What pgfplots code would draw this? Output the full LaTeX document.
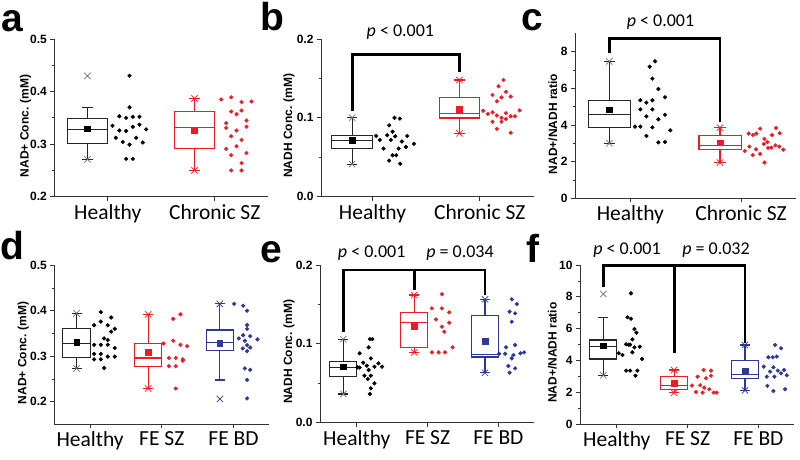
\documentclass[border=0pt]{standalone}
\usepackage{fontspec}
\setmainfont{Liberation Sans}
\newfontfamily\calib{Carlito}
\usepackage{pgfplots}
\pgfplotsset{compat=1.18}
\usepgfplotslibrary{statistics}
\definecolor{myred}{RGB}{237,28,36}
\definecolor{myblue}{RGB}{46,56,150}
\pgfplotsset{
 panel/.style={
  scale only axis, anchor=south west, clip=false,
  axis x line*=bottom, axis y line*=left,
  axis line style={black!80, line width=0.8pt},
  tick align=outside,
  every tick/.style={black!80, line width=0.8pt},
  major tick length=4pt, minor tick length=2.5pt,
  minor y tick num=1,
  yticklabel style={font=\bfseries\fontsize{12}{14}\selectfont},
  xticklabel style={font=\calib\fontsize{21.5}{24}\selectfont},
  ylabel style={font=\bfseries\fontsize{12}{14}\selectfont},
  boxplot/draw direction=y,
  boxplot/box extend=0.38,
 },
 lab/.style={ylabel style={at={(axis description cs:#1,0.45)}, anchor=center}},
}
\newcommand{\BOX}[7]{\addplot[#1, line width=1.1pt, solid, boxplot prepared={draw direction=y, draw position=#2, lower whisker=#3, lower quartile=#4, median=#5, upper quartile=#6, upper whisker=#7}] coordinates {};}
\newcommand{\MEAN}[3]{\addplot[#1, only marks, mark=square*, mark size=2.8pt] coordinates {(#2,#3)};}
\newcommand{\XM}[2]{\addplot[#1, only marks, mark=x, mark size=4.5pt, line width=0.7pt] coordinates {#2};}
\newcommand{\DOTS}[2]{\addplot[#1, only marks, mark=*, mark size=1.9pt, mark options={draw=none}] coordinates {#2};}
\newcommand{\BRK}[1]{\addplot[black, line width=2.8pt, sharp plot, mark=none] coordinates {#1};}
\newcommand{\PV}{\calib\fontsize{18}{20}\selectfont}
\begin{document}
\begin{tikzpicture}
\path[use as bounding box] (0,0) rectangle (800pt,460pt);
\node[anchor=base west, font=\bfseries\fontsize{39}{39}\selectfont, inner sep=0] at (1.5pt,428.5pt) {a};
\node[anchor=base west, font=\bfseries\fontsize{39}{39}\selectfont, inner sep=0] at (260.5pt,429pt) {b};
\node[anchor=base west, font=\bfseries\fontsize{39}{39}\selectfont, inner sep=0] at (521.5pt,429pt) {c};
\node[anchor=base west, font=\bfseries\fontsize{39}{39}\selectfont, inner sep=0] at (0.5pt,200pt) {d};
\node[anchor=base west, font=\bfseries\fontsize{39}{39}\selectfont, inner sep=0] at (260.5pt,197pt) {e};
\node[anchor=base west, font=\bfseries\fontsize{39}{39}\selectfont, inner sep=0] at (526pt,197pt) {f};

% ---------------- panel a
\begin{axis}[panel, lab=-0.135, at={(54.3pt,263.3pt)}, width=214pt, height=157.7pt,
  xmin=0.5, xmax=2.5, ymin=0.2, ymax=0.5,
  xtick={1,2}, xticklabels={Healthy, Chronic SZ},
  ytick={0.2,0.3,0.4,0.5}, yticklabels={0.2,0.3,0.4,0.5},
  ylabel={NAD+ Conc. (mM)}, boxplot/whisker extend=0.1]
\BOX{black!85}{0.81}{0.271}{0.3015}{0.327}{0.349}{0.37}
\MEAN{black}{0.81}{0.329}
\XM{black!55}{(0.81,0.43)(0.81,0.271)}
\DOTS{black}{(1.203,0.430)(1.203,0.370)(1.108,0.353)(1.171,0.350)(1.234,0.352)(1.296,0.352)(1.044,0.335)(1.108,0.326)(1.171,0.325)(1.234,0.333)(1.296,0.337)(1.358,0.328)(1.075,0.312)(1.140,0.304)(1.203,0.299)(1.265,0.312)(1.327,0.303)(1.171,0.272)(1.234,0.272)}
\BOX{myred}{1.81}{0.25}{0.291}{0.331}{0.362}{0.387}
\MEAN{myred}{1.81}{0.3255}
\XM{myred}{(1.81,0.387)(1.81,0.25)}
\DOTS{myred}{(2.06,0.385)(2.153,0.389)(2.25,0.380)(2.343,0.381)(2.153,0.362)(2.203,0.357)(2.25,0.364)(2.296,0.345)(2.106,0.340)(2.296,0.333)(2.106,0.331)(2.203,0.326)(2.153,0.315)(2.25,0.308)(2.106,0.291)(2.203,0.296)(2.153,0.279)(2.296,0.283)(2.25,0.264)(2.153,0.250)(2.25,0.250)}
\end{axis}

% ---------------- panel b
\begin{axis}[panel, lab=-0.15, at={(321pt,263.3pt)}, width=212.5pt, height=157.7pt,
  xmin=0.52, xmax=2.5, ymin=0, ymax=0.2,
  xtick={1,2}, xticklabels={Healthy, Chronic SZ},
  ytick={0,0.1,0.2}, yticklabels={0.0,0.1,0.2},
  ylabel={NADH Conc. (mM)}, boxplot/whisker extend=0.1]
\BRK{(0.81,0.109)(0.81,0.18)(1.81,0.18)(1.81,0.1585)}
\node[font=\PV] at (axis cs:1.26,0.209) {\textit{p} < 0.001};
\BOX{black!85}{0.81}{0.0414}{0.0609}{0.0715}{0.0778}{0.1002}
\MEAN{black}{0.81}{0.072}
\XM{black!55}{(0.81,0.1002)(0.81,0.0414)}
\DOTS{black}{(1.034,0.077)(1.068,0.072)(1.137,0.078)(1.103,0.061)(1.155,0.0905)(1.187,0.0824)(1.171,0.072)(1.211,0.0766)(1.205,0.100)(1.255,0.099)(1.274,0.070)(1.243,0.061)(1.324,0.077)(1.311,0.063)(1.386,0.067)(1.221,0.0525)(1.187,0.0525)(1.155,0.0457)(1.258,0.0419)}
\BOX{myred}{1.81}{0.0804}{0.0998}{0.1057}{0.1256}{0.148}
\MEAN{myred}{1.81}{0.111}
\XM{myred}{(1.81,0.148)(1.81,0.0804)}
\DOTS{myred}{(2.221,0.148)(2.174,0.140)(2.243,0.133)(2.118,0.129)(2.287,0.127)(2.202,0.126)(2.159,0.121)(2.031,0.109)(2.075,0.105)(2.118,0.107)(2.159,0.103)(2.202,0.100)(2.243,0.106)(2.287,0.102)(2.327,0.102)(2.371,0.1095)(2.202,0.095)(2.243,0.0985)(2.118,0.095)(2.159,0.086)(2.287,0.081)}
\end{axis}

% ---------------- panel c
\begin{axis}[panel, lab=-0.1, at={(575pt,261.7pt)}, width=221.4pt, height=165pt,
  xmin=0.5, xmax=2.5, ymin=0, ymax=9,
  xtick={1,2}, xticklabels={Healthy, Chronic SZ},
  ytick={0,2,4,6,8}, yticklabels={0,2,4,6,8},
  ylabel={NAD+/NADH ratio}, boxplot/whisker extend=0.1]
\BRK{(0.81,7.9)(0.81,8.72)(1.81,8.72)(1.81,4.18)}
\node[font=\PV] at (axis cs:1.272,9.63) {\textit{p} < 0.001};
\BOX{black!85}{0.81}{3.0}{3.87}{4.56}{5.35}{7.47}
\MEAN{black}{0.81}{4.84}
\XM{black!55}{(0.81,7.47)(0.81,3.0)}
\DOTS{black}{(1.223,7.47)(1.175,7.18)(1.199,6.53)(1.253,5.96)(1.313,5.51)(1.090,5.35)(1.145,5.22)(1.199,5.35)(1.090,4.85)(1.199,4.85)(1.145,4.47)(1.313,4.56)(1.253,4.31)(1.042,3.91)(1.090,3.91)(1.199,3.87)(1.361,3.71)(1.145,3.40)(1.253,3.05)(1.313,3.07)}
\BOX{myred}{1.81}{1.95}{2.67}{2.89}{3.45}{3.85}
\MEAN{myred}{1.81}{3.04}
\XM{myred}{(1.81,3.85)(1.81,1.95)}
\DOTS{myred}{(2.069,3.53)(2.108,3.45)(2.138,3.53)(2.172,3.80)(2.316,3.84)(2.349,3.55)(2.28,3.45)(2.211,3.24)(2.238,3.07)(2.205,2.96)(2.075,2.82)(2.244,2.75)(2.274,2.76)(2.31,2.89)(2.346,2.82)(2.382,2.65)(2.135,2.67)(2.033,2.58)(2.105,2.36)(2.172,2.42)(2.211,1.95)}
\end{axis}

% ---------------- panel d
\begin{axis}[panel, lab=-0.144, at={(54.3pt,35.6pt)}, width=215pt, height=159.2pt,
  xmin=0.5, xmax=3.5, ymin=0.15, ymax=0.5,
  xtick={1,2,3}, xticklabels={Healthy, FE SZ, FE BD},
  ytick={0.2,0.3,0.4,0.5}, yticklabels={0.2,0.3,0.4,0.5},
  ylabel={NAD+ Conc. (mM)}, boxplot/whisker extend=0.14]
\BOX{black!85}{0.81}{0.273}{0.298}{0.3275}{0.36}{0.394}
\MEAN{black}{0.81}{0.331}
\XM{black!55}{(0.81,0.394)(0.81,0.273)}
\DOTS{black}{(1.149,0.397)(1.293,0.385)(1.056,0.368)(1.149,0.376)(1.246,0.368)(1.344,0.360)(1.293,0.354)(1.195,0.339)(1.246,0.3355)(1.344,0.318)(1.056,0.325)(1.149,0.325)(1.246,0.325)(1.056,0.305)(1.149,0.305)(1.246,0.299)(1.056,0.293)(1.149,0.293)(1.344,0.299)(1.195,0.274)}
\BOX{myred}{1.81}{0.229}{0.2777}{0.296}{0.3275}{0.392}
\MEAN{myred}{1.81}{0.309}
\XM{myred}{(1.81,0.392)(1.81,0.229)}
\DOTS{myred}{(2.26,0.392)(2.16,0.382)(2.023,0.328)(2.16,0.334)(2.26,0.325)(2.353,0.322)(2.10,0.296)(2.195,0.296)(2.293,0.293)(2.10,0.278)(2.195,0.278)(2.293,0.290)(2.195,0.229)}
\BOX{myblue}{2.81}{0.2476}{0.312}{0.330}{0.3575}{0.415}
\MEAN{myblue}{2.81}{0.328}
\XM{myblue}{(2.81,0.415)(2.81,0.206)}
\DOTS{myblue}{(3.01,0.415)(3.135,0.411)(3.19,0.400)(3.19,0.3685)(3.19,0.360)(3.135,0.346)(3.233,0.344)(3.075,0.339)(3.335,0.337)(3.159,0.334)(3.19,0.324)(3.13,0.317)(3.233,0.319)(3.19,0.311)(3.159,0.273)(3.233,0.270)(3.19,0.248)(3.19,0.207)}
\end{axis}

% ---------------- panel e
\begin{axis}[panel, lab=-0.145, at={(320pt,37.3pt)}, width=213.8pt, height=157.7pt,
  xmin=0.48, xmax=3.5, ymin=0, ymax=0.2,
  xtick={1,2,3}, xticklabels={Healthy, FE SZ, FE BD},
  ytick={0,0.1,0.2}, yticklabels={0.0,0.1,0.2},
  ylabel={NADH Conc. (mM)}, boxplot/whisker extend=0.14]
\BRK{(0.81,0.1154)(0.81,0.1937)(2.81,0.1937)(2.81,0.162)}
\BRK{(1.81,0.1937)(1.81,0.168)}
\node[font=\PV] at (axis cs:1.21,0.2156) {\textit{p} < 0.001};
\node[font=\PV] at (axis cs:2.458,0.2156) {\textit{p} = 0.034};
\BOX{black!85}{0.81}{0.0364}{0.0583}{0.070}{0.0774}{0.106}
\MEAN{black}{0.81}{0.071}
\XM{black!55}{(0.81,0.106)(0.81,0.0364)}
\DOTS{black}{(1.185,0.106)(1.22,0.106)(1.167,0.0956)(1.04,0.088)(1.198,0.0816)(1.305,0.0753)(1.09,0.0761)(1.141,0.0723)(1.249,0.071)(1.357,0.071)(1.01,0.0702)(1.04,0.0698)(1.167,0.0668)(1.108,0.0596)(1.198,0.0596)(1.155,0.0554)(1.249,0.0499)(1.198,0.0436)(1.185,0.0364)}
\BOX{myred}{1.81}{0.0892}{0.0956}{0.127}{0.140}{0.162}
\MEAN{myred}{1.81}{0.1226}
\XM{myred}{(1.81,0.162)(1.81,0.0892)}
\DOTS{myred}{(2.202,0.163)(2.061,0.145)(2.202,0.145)(2.305,0.140)(2.118,0.131)(2.202,0.1218)(2.305,0.1268)(2.235,0.1154)(2.061,0.0892)(2.155,0.0892)(2.245,0.0892)(2.353,0.0956)}
\BOX{myblue}{2.81}{0.0634}{0.0833}{0.087}{0.136}{0.1565}
\MEAN{myblue}{2.81}{0.103}
\XM{myblue}{(2.81,0.1565)(2.81,0.0634)}
\DOTS{myblue}{(3.189,0.1565)(3.26,0.1505)(3.158,0.1408)(3.236,0.1387)(3.189,0.128)(3.108,0.0956)(3.236,0.0985)(3.01,0.0875)(3.095,0.0875)(3.212,0.0858)(3.311,0.088)(3.363,0.0892)(3.189,0.0816)(3.141,0.0719)(3.236,0.0689)(3.158,0.0634)}
\end{axis}

% ---------------- panel f
\begin{axis}[panel, lab=-0.129, at={(580pt,35.7pt)}, width=213.8pt, height=159.3pt,
  xmin=0.48, xmax=3.5, ymin=0, ymax=10,
  xtick={1,2,3}, xticklabels={Healthy, FE SZ, FE BD},
  ytick={0,2,4,6,8,10}, yticklabels={0,2,4,6,8,10},
  ylabel={NAD+/NADH ratio}, boxplot/whisker extend=0.14]
\BRK{(0.81,8.6)(0.81,9.96)(2.81,9.96)(2.81,5.08)}
\BRK{(1.81,9.96)(1.81,4.46)}
\node[font=\PV] at (axis cs:1.144,10.94) {\textit{p} < 0.001};
\node[font=\PV] at (axis cs:2.401,10.94) {\textit{p} = 0.032};
\BOX{black!85}{0.81}{3.08}{4.10}{4.87}{5.29}{6.72}
\MEAN{black}{0.81}{4.94}
\XM{black!55}{(0.81,8.18)(0.81,3.08)}
\DOTS{black}{(1.2,8.22)(1.15,6.72)(1.2,6.63)(1.249,5.98)(1.277,5.75)(1.219,5.33)(1.169,5.0)(1.131,5.02)(1.188,5.0)(1.249,4.83)(1.325,4.87)(1.219,4.52)(1.028,4.46)(1.08,4.35)(1.357,4.10)(1.131,3.37)(1.188,3.37)(1.291,3.37)(1.263,3.05)}
\BOX{myred}{1.81}{2.0}{2.20}{2.41}{2.99}{3.41}
\MEAN{myred}{1.81}{2.57}
\XM{myred}{(1.81,3.41)(1.81,1.98)}
\DOTS{myred}{(2.226,3.41)(2.33,3.37)(2.141,2.99)(2.259,2.89)(2.33,3.05)(2.061,2.43)(2.178,2.45)(2.235,2.30)(2.118,2.03)(2.212,1.99)(2.305,2.20)(2.367,1.99)(2.41,1.99)}
\BOX{myblue}{2.81}{2.13}{2.89}{3.10}{4.0}{4.98}
\MEAN{myblue}{2.81}{3.35}
\XM{myblue}{(2.81,4.98)(2.81,2.13)}
\DOTS{myblue}{(3.236,4.98)(3.32,4.77)(3.141,4.21)(3.203,4.21)(3.26,4.25)(3.076,3.62)(3.212,3.58)(3.165,3.31)(3.274,3.37)(3.363,3.41)(3.32,3.20)(3.401,3.08)(3.119,2.99)(3.226,2.99)(3.127,2.41)(3.212,2.09)(3.377,2.20)}
\end{axis}
\end{tikzpicture}
\end{document}
